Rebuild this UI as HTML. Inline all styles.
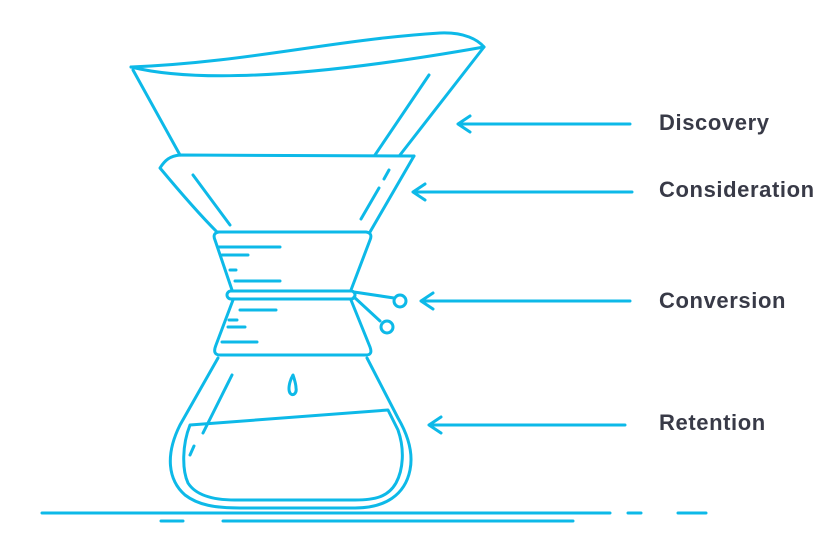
<!DOCTYPE html>
<html><head><style>
html,body{margin:0;padding:0;background:#fff;width:826px;height:539px;overflow:hidden}
svg{display:block}
text{font-family:"Liberation Sans",sans-serif;font-weight:bold;font-size:22px;letter-spacing:0.6px;fill:#383a47}
</style></head><body>
<svg width="826" height="539" viewBox="0 0 826 539" xmlns="http://www.w3.org/2000/svg">
<g fill="none" stroke="#0db9e8" stroke-width="3" stroke-linecap="round" stroke-linejoin="round">
<path d="M131,67 C250,62 330,40 440,33 C465,32 478,40 484,47"/>
<path d="M131,67 C200,84 320,76 484,47"/>
<path d="M133,70 L180,155"/>
<path d="M484,47 L400,155"/>
<path d="M429,75 L375,155"/>
<path d="M414,156 L180,155 C170,156 165,160 160,168 C185,198 200,215 217,232"/>
<path d="M414,156 L370,232"/>
<path d="M193,175 L230,225"/>
<path d="M389,170 L384,179"/>
<path d="M379,188 L361,219"/>
<path d="M219,232 L366,232 Q373,233 370,240 L351,290"/>
<path d="M219,232 Q212,233 215,240 L232,290"/>
<path d="M218,247 L280,247"/><path d="M222,255 L248,255"/><path d="M230,270 L236,270"/><path d="M235,281 L280,281"/>
<rect x="227" y="291" width="128" height="8" rx="4"/>
<path d="M354,292 L394,298"/><path d="M354,297 L380,321"/>
<circle cx="400" cy="301" r="6"/><circle cx="387" cy="327" r="6"/>
<path d="M233,300 L216,345 Q212,355 220,355 L366,355 Q373,355 370,347 L351,300"/>
<path d="M240,310 L276,310"/><path d="M229,320 L237,320"/><path d="M228,327 L245,327"/><path d="M222,342 L257,342"/>
<path d="M218,358 L180,425 C165,455 168,480 185,495 C198,505 215,508 240,508 L355,508 C385,508 405,495 410,470 C414,450 405,430 398,418 L367,358"/>
<path d="M190,425 L388,410 L398,430 C405,450 403,470 396,483 C388,497 375,500 355,500 L235,500 C210,500 195,494 188,483 C182,470 182,445 190,425 Z"/>
<path d="M232,375 L203,433"/><path d="M194,446 L190,455"/>
<path d="M293,375 C289,382 288,390 290,393 C293,397 297,393 296,388 C296,384 294,378 293,375 Z"/>
<path d="M42,513 L610,513"/><path d="M628,513 L641,513"/><path d="M678,513 L706,513"/>
<path d="M161,521 L183,521"/><path d="M223,521 L573,521"/>
<path d="M630,124 L458,124 M470,116 L458,124 L470,132"/>
<path d="M632,192 L413,192 M425,184 L413,192 L425,200"/>
<path d="M630,301 L421,301 M433,293 L421,301 L433,309"/>
<path d="M625,425 L429,425 M441,417 L429,425 L441,433"/>
</g>
<text x="659" y="130">Discovery</text>
<text x="659" y="197">Consideration</text>
<text x="659" y="308">Conversion</text>
<text x="659" y="430">Retention</text>
</svg>
</body></html>
